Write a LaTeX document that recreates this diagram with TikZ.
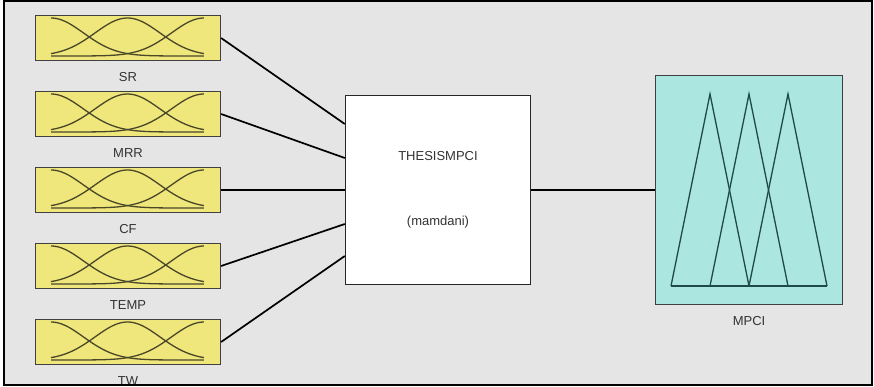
\documentclass[tikz,border=0pt]{standalone}
\usepackage{fontspec}
\setmainfont{Liberation Sans}
\usepackage{tikz}
\usetikzlibrary{calc}
\definecolor{panelgray}{HTML}{E5E5E5}
\definecolor{mfyellow}{HTML}{EFE77C}
\definecolor{mfcyan}{HTML}{ACE6E1}
\definecolor{curveolive}{HTML}{4A4728}
\definecolor{curveteal}{HTML}{1E4A4A}
\definecolor{labelgray}{HTML}{333333}
\tikzstyle{inbox} = [rectangle, minimum width=185pt, minimum height=45pt, draw=black!75, line width=1.2pt, fill=mfyellow]
\tikzstyle{fisbox} = [rectangle, minimum width=185pt, minimum height=189pt, draw=black!85, line width=1.4pt, fill=white, text=labelgray, align=center, font=\fontsize{13}{15}\selectfont]
\tikzstyle{outbox} = [rectangle, minimum width=187pt, minimum height=229pt, draw=black!75, line width=1.2pt, fill=mfcyan]
\tikzstyle{lbl} = [text=labelgray, font=\fontsize{13}{15}\selectfont, node distance=39pt]
\tikzstyle{wire} = [line width=1.7pt, black]
\tikzstyle{gauss} = [curveolive, line width=1.3pt]
\tikzstyle{tri} = [curveteal, line width=1.3pt]

\begin{document}
\begin{tikzpicture}[x=1pt, y=1pt, node distance=76pt]
                \useasboundingbox (0,0) rectangle (874,386);
                \fill [white] (0,0) rectangle (874,386);
                \fill [panelgray] (4,1) rectangle (872,385);

                \begin{scope}
                \clip (5,2) rectangle (871,384);

% ---------------------------------------------
% Inputs (left column)
% ---------------------------------------------
                \node (sr) [inbox] at (128,348) {};
                \node (mrr) [inbox, below of = sr] {};
                \node (cf) [inbox, below of = mrr] {};
                \node (temp) [inbox, below of = cf] {};
                \node (tw) [inbox, below of = temp] {};

                \node (sr_lbl) [lbl, below of = sr] {SR};
                \node (mrr_lbl) [lbl, below of = mrr] {MRR};
                \node (cf_lbl) [lbl, below of = cf] {CF};
                \node (temp_lbl) [lbl, below of = temp] {TEMP};
                \node (tw_lbl) [lbl, below of = tw] {TW};

                % membership curves
                \foreach \mf in {sr,mrr,cf,temp,tw}{
                    \begin{scope}[shift={($(\mf.center)+(-77,-18)$)}, x=76.5pt, y=38pt]
                        \draw [gauss] plot[domain=0:2, samples=60, smooth] (\x, {exp(-1*\x*\x/0.361)});
                        \draw [gauss] plot[domain=0:2, samples=60, smooth] (\x, {exp(-1*(\x-1)*(\x-1)/0.361)});
                        \draw [gauss] plot[domain=0:2, samples=60, smooth] (\x, {exp(-1*(\x-2)*(\x-2)/0.361)});
                    \end{scope}
                }

% ---------------------------------------------
% System (middle)
% ---------------------------------------------
                \node (fis) [fisbox, right of = cf, xshift=234pt] {THESISMPCI\\[50pt](mamdani)};

                \coordinate (fis_in1) at ($(fis.west)+(0,66)$);
                \coordinate (fis_in2) at ($(fis.west)+(0,32)$);
                \coordinate (fis_in3) at (fis.west);
                \coordinate (fis_in4) at ($(fis.west)+(0,-34)$);
                \coordinate (fis_in5) at ($(fis.west)+(0,-66)$);

% ---------------------------------------------
% Output (right)
% ---------------------------------------------
                \node (mpci) [outbox, right of = fis, xshift=235pt] {};
                \node (mpci_lbl) [lbl, below of = mpci, node distance=131pt] {MPCI};

                \begin{scope}[shift={(mpci.center)}]
                    \draw [tri] (-78,-96) -- (-39,96) -- (0,-96);
                    \draw [tri] (-39,-96) -- (0,96) -- (39,-96);
                    \draw [tri] (0,-96) -- (39,96) -- (78,-96);
                    \draw [tri] (-78,-96) -- (78,-96);
                \end{scope}

% ---------------------------------------------
% All wires
% ---------------------------------------------
                \draw [wire] (sr.east) -- (fis_in1);
                \draw [wire] (mrr.east) -- (fis_in2);
                \draw [wire] (cf.east) -- (fis_in3);
                \draw [wire] (temp.east) -- (fis_in4);
                \draw [wire] (tw.east) -- (fis_in5);
                \draw [wire] (fis.east) -- (mpci.west);

                \end{scope}

                \draw [black, line width=2pt] (4,1) rectangle (872,385);
\end{tikzpicture}
\end{document}
